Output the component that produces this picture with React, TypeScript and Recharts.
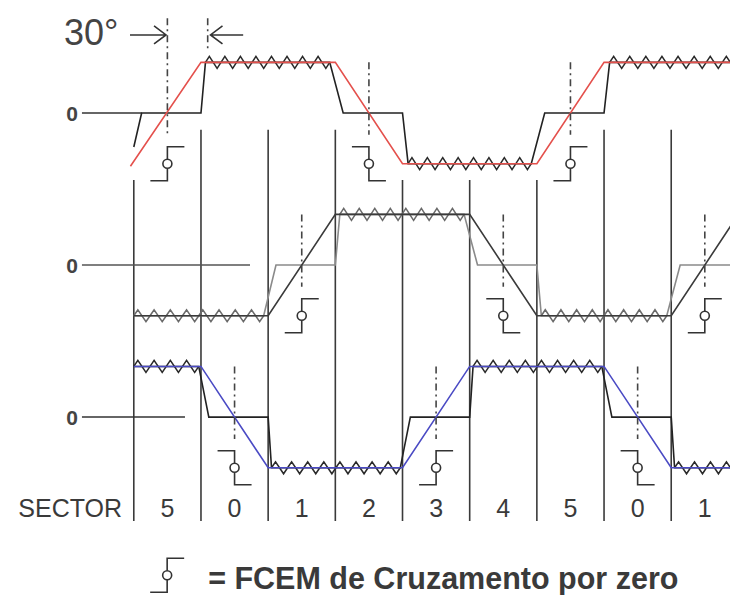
import React from 'react'
import { LineChart, Line, XAxis, YAxis, ReferenceLine, ReferenceDot } from 'recharts'

// x is in electrical degrees, y in normalised volts (+1 / -1), each phase row shifted by rowZero
const X_DOMAIN: [number, number] = [-119.5, 532.5]
const Y_DOMAIN: [number, number] = [-9.51, 2.23]

const boundaries = [0, 60, 120, 180, 240, 300, 360, 420, 480]
const sectors = ['5', '0', '1', '2', '3', '4', '5', '0', '1']
const rowZero = [0, -3, -6]

// ideal back-EMF trapezoids
const emfA = [[-3, -1.05], [60, 1], [180, 1], [240, -1], [360, -1], [420, 1], [540, 1]]
const emfB = [[0, -1], [120, -1], [180, 1], [300, 1], [360, -1], [480, -1], [540, 1]]
const emfC = [[0, 1], [60, 1], [120, -1], [240, -1], [300, 1], [420, 1], [480, -1], [540, -1]]

// measured terminal voltages (floating phase sits at zero)
const phaseA = [[0, -0.67], [7, 0], [60, 0], [64, 1], [175, 1], [187, 0], [240, 0], [245, -1], [355, -1], [367, 0], [420, 0], [425, 1], [540, 1]]
const phaseB = [[0, -1], [116, -1], [127, 0], [180, 0], [184, 1], [295, 1], [307, 0], [360, 0], [364, -1], [476, -1], [488, 0], [540, 0]]
const phaseC = [[0, 1], [58, 1], [67, 0], [120, 0], [123, -1], [238, -1], [247, 0], [300, 0], [303, 1], [418, 1], [427, 0], [480, 0], [483, -1], [540, -1]]

// PWM ripple on the driven intervals: [from, to, level]
const rippleA = [[64, 175, 1], [245, 355, -1], [425, 540, 1]]
const rippleB = [[0, 116, -1], [184, 295, 1], [364, 476, -1]]
const rippleC = [[0, 58, 1], [123, 238, -1], [303, 418, 1], [483, 540, -1]]

// zero crossings of the back-EMF
const crossA = [{ x: 30, dir: 1 }, { x: 210, dir: -1 }, { x: 390, dir: 1 }]
const crossB = [{ x: 150, dir: 1 }, { x: 330, dir: -1 }, { x: 510, dir: 1 }]
const crossC = [{ x: 90, dir: -1 }, { x: 270, dir: 1 }, { x: 450, dir: -1 }]

// where each row's zero axis stops on the left
const zeroAxisEnd = [7, 103.8, 45.7]

const FONT = "'Liberation Sans', Arial, sans-serif"
const INK = '#333'
const RED = '#e4504c'
const BLUE = '#4a4ac4'

const toData = (pts: number[][], row: number) => pts.map(([x, y]) => ({ x, y: y + rowZero[row] }))

const valueAt = (pts: number[][], x: number) => {
  for (let i = 1; i < pts.length; i++) {
    const [x0, y0] = pts[i - 1]
    const [x1, y1] = pts[i]
    if (x >= x0 && x <= x1) return y0 + ((y1 - y0) * (x - x0)) / (x1 - x0)
  }
  return 0
}

const ZigZag = (props: any) => {
  const { x1, y1, x2, stroke } = props
  const period = 16
  const amp = 6
  const len = x2 - x1
  const n = Math.max(1, Math.round(len / period))
  const step = len / n
  let d = `M${x1},${y1}`
  for (let i = 0; i < n; i++) {
    const s = x1 + i * step
    d += ` L${s + step * 0.25},${y1 - amp} L${s + step * 0.75},${y1 + amp} L${s + step},${y1}`
  }
  return <path d={d} fill="none" stroke={stroke} strokeWidth={1.5} />
}

const Arrow = (props: any) => {
  const { x1, y1, x2 } = props
  const dir = Math.sign(x2 - x1)
  return (
    <path
      d={`M${x1},${y1} H${x2} M${x2 - dir * 12},${y1 - 9} L${x2},${y1} L${x2 - dir * 12},${y1 + 9}`}
      fill="none"
      stroke={INK}
      strokeWidth={1.6}
    />
  )
}

const ZcSymbol = ({ cx, cy, dir }: { cx: number; cy: number; dir: number }) => {
  const h = 17
  const w = 17
  const r = 4.5
  return (
    <g fill="none" stroke={INK} strokeWidth={1.6}>
      <path d={`M${cx + dir * w},${cy - h} H${cx} V${cy - r} M${cx},${cy + r} V${cy + h} H${cx - dir * w}`} />
      <circle cx={cx} cy={cy} r={r} fill="#fff" />
    </g>
  )
}

const textShape = (label: string, size: number, anchor: string, weight = 'normal', dy = 0, fill = '#3a3a3a') => (p: any) => (
  <text
    x={p.cx}
    y={p.cy + dy}
    fontSize={size}
    fontFamily={FONT}
    fontWeight={weight}
    textAnchor={anchor as any}
    fill={fill}
  >
    {label}
  </text>
)

const rows = [
  { emf: emfA, phase: phaseA, ripple: rippleA, cross: crossA, emfColor: RED, phaseColor: '#222', rippleColor: '#2a2a2a' },
  { emf: emfB, phase: phaseB, ripple: rippleB, cross: crossB, emfColor: '#3a3a3a', phaseColor: '#8a8a8a', rippleColor: '#6a6a6a' },
  { emf: emfC, phase: phaseC, ripple: rippleC, cross: crossC, emfColor: BLUE, phaseColor: '#222', rippleColor: '#2a2a2a' },
]

const SECTOR_Y = -7.97
const LINE_BOTTOM = -8.05

export default function App() {
  return (
    <>
      <style>{'body{margin:0;background:#fff}'}</style>
      <LineChart width={730} height={595} margin={{ top: 0, right: 0, bottom: 0, left: 0 }}>
        <XAxis type="number" dataKey="x" domain={X_DOMAIN} allowDataOverflow hide />
        <YAxis type="number" dataKey="y" domain={Y_DOMAIN} allowDataOverflow hide />

        {/* sector boundaries */}
        {boundaries.map((b) => (
          <ReferenceLine
            key={`b${b}`}
            segment={[{ x: b, y: valueAt(emfA, b) > 0 ? -0.33 : -1.32 }, { x: b, y: LINE_BOTTOM }]}
            stroke="#3a3a3a"
            strokeWidth={1.6}
            ifOverflow="visible"
          />
        ))}

        {/* zero axes */}
        {rowZero.map((z, i) => (
          <ReferenceLine
            key={`z${i}`}
            segment={[{ x: -46.3, y: z }, { x: zeroAxisEnd[i], y: z }]}
            stroke={i === 1 ? '#555' : INK}
            strokeWidth={1.5}
            ifOverflow="visible"
          />
        ))}
        {rowZero.map((z, i) => (
          <ReferenceDot key={`zl${i}`} x={-49.8} y={z} r={0} ifOverflow="visible" shape={textShape('0', 21, 'end', 'bold', 7.5, '#444')} />
        ))}

        {/* terminal voltages */}
        {rows.map((r, i) => (
          <Line
            key={`p${i}`}
            data={toData(r.phase, i)}
            dataKey="y"
            type="linear"
            stroke={r.phaseColor}
            strokeWidth={1.6}
            dot={false}
            activeDot={false}
            isAnimationActive={false}
          />
        ))}

        {/* PWM ripple */}
        {rows.map((r, i) =>
          r.ripple.map(([a, b, lvl]) => (
            <ReferenceLine
              key={`r${i}-${a}`}
              segment={[{ x: a, y: lvl + rowZero[i] }, { x: b, y: lvl + rowZero[i] }]}
              stroke={r.rippleColor}
              ifOverflow="visible"
              shape={ZigZag}
            />
          ))
        )}

        {/* back-EMF */}
        {rows.map((r, i) => (
          <Line
            key={`e${i}`}
            data={toData(r.emf, i)}
            dataKey="y"
            type="linear"
            stroke={r.emfColor}
            strokeWidth={1.6}
            dot={false}
            activeDot={false}
            isAnimationActive={false}
          />
        ))}

        {/* zero-crossing markers */}
        {rows.map((r, i) =>
          r.cross.map((c) => (
            <ReferenceLine
              key={`d${i}-${c.x}`}
              segment={[{ x: c.x, y: i === 0 && c.x === 30 ? 1.87 : 1 + rowZero[i] }, { x: c.x, y: -0.43 + rowZero[i] }]}
              stroke="#444"
              strokeWidth={1.6}
              strokeDasharray="7 4 2 4"
              ifOverflow="visible"
            />
          ))
        )}
        {rows.map((r, i) =>
          r.cross.map((c) => (
            <ReferenceDot
              key={`s${i}-${c.x}`}
              x={c.x}
              y={rowZero[i] - 1}
              r={0}
              ifOverflow="visible"
              shape={(p: any) => <ZcSymbol cx={p.cx} cy={p.cy} dir={c.dir} />}
            />
          ))
        )}

        {/* 30° annotation */}
        <ReferenceLine segment={[{ x: 66, y: 1.87 }, { x: 66, y: 1.25 }]} stroke="#444" strokeWidth={1.6} strokeDasharray="7 4 2 4" ifOverflow="visible" />
        <ReferenceLine segment={[{ x: -3.4, y: 1.54 }, { x: 28.8, y: 1.54 }]} ifOverflow="visible" shape={Arrow} />
        <ReferenceLine segment={[{ x: 97.7, y: 1.54 }, { x: 68.5, y: 1.54 }]} ifOverflow="visible" shape={Arrow} />
        <ReferenceDot x={-62.3} y={1.34} r={0} ifOverflow="visible" shape={textShape('30°', 36, 'start', 'normal', 0, '#444')} />

        {/* sector row */}
        <ReferenceDot x={-10.5} y={SECTOR_Y} r={0} ifOverflow="visible" shape={textShape('SECTOR', 25, 'end')} />
        {sectors.map((s, i) => (
          <ReferenceDot key={`sec${i}`} x={boundaries[i] + 30} y={SECTOR_Y} r={0} ifOverflow="visible" shape={textShape(s, 25, 'middle')} />
        ))}

        {/* legend */}
        <ReferenceDot x={29.8} y={-9.12} r={0} ifOverflow="visible" shape={(p: any) => <ZcSymbol cx={p.cx} cy={p.cy} dir={1} />} />
        <ReferenceDot x={66.4} y={-9.4} r={0} ifOverflow="visible" shape={textShape('= FCEM de Cruzamento por zero', 30.5, 'start', 'bold')} />
      </LineChart>
    </>
  )
}
